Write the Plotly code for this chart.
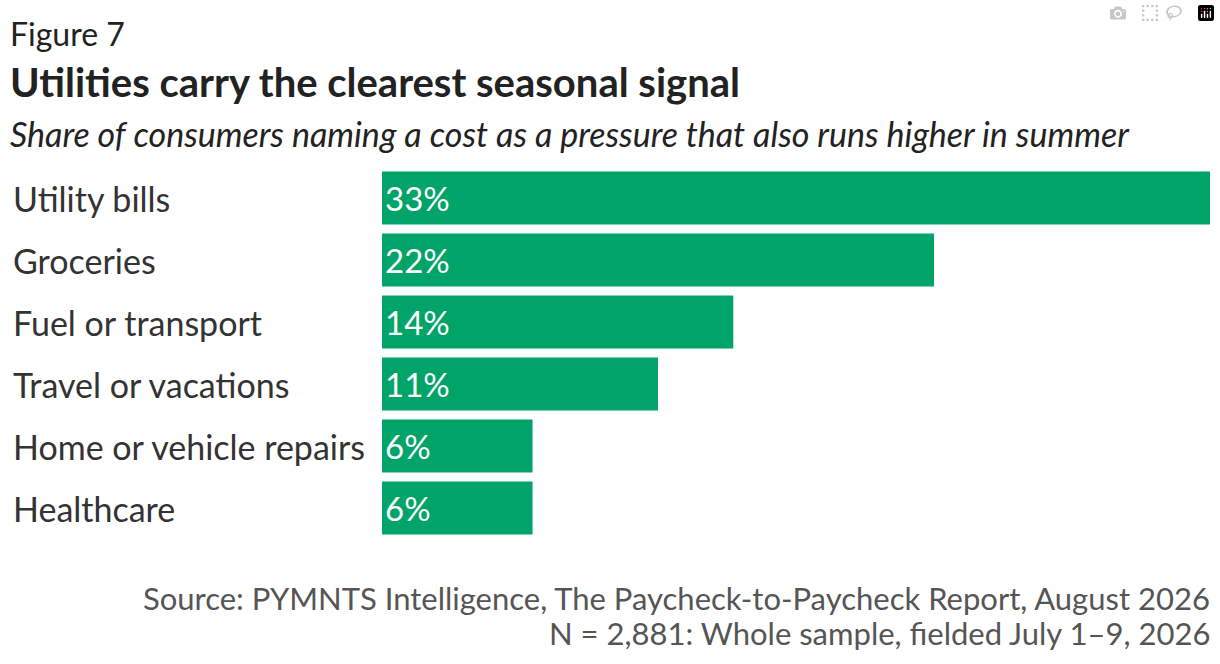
import plotly.graph_objects as go

categories = ["Utility bills", "Groceries", "Fuel or transport",
              "Travel or vacations", "Home or vehicle repairs", "Healthcare"]
values = [33, 22, 14, 11, 6, 6]
value_labels = ["33%", "22%", "14%", "11%", "6%", "6%"]

green = "#00A468"
font = "Lato, 'Open Sans', sans-serif"

W, H = 1220, 664
left, right, top, bottom = 382, 10, 167, 125
plot_w = W - left - right
plot_h = H - top - bottom

fig = go.Figure(go.Bar(
    x=values, y=categories, orientation="h",
    marker=dict(color=green, line=dict(width=0)),
    text=value_labels, textposition="inside", insidetextanchor="start",
    textfont=dict(color="white", size=33, family=font),
    hoverinfo="skip",
))

# left-aligned category labels
annotations = []
for c in categories:
    annotations.append(dict(
        x=-(left - 11) / plot_w, y=c, xref="paper", yref="y",
        text=c, showarrow=False, xanchor="left", yanchor="middle",
        font=dict(size=34, color="#333333", family=font)))

def py(px):
    # convert pixel y from top into paper coords
    return (H - bottom - px) / plot_h

def px_x(px):
    return (px - left) / plot_w

annotations += [
    dict(x=px_x(8), y=py(33), xref="paper", yref="paper", text="Figure 7",
         showarrow=False, xanchor="left", yanchor="middle",
         font=dict(size=32, color="#222222", family=font)),
    dict(x=px_x(8), y=py(82), xref="paper", yref="paper",
         text="<b>Utilities carry the clearest seasonal signal</b>",
         showarrow=False, xanchor="left", yanchor="middle",
         font=dict(size=40, color="#222222", family=font)),
    dict(x=px_x(8), y=py(133), xref="paper", yref="paper",
         text="<i>Share of consumers naming a cost as a pressure that also runs higher in summer</i>",
         showarrow=False, xanchor="left", yanchor="middle",
         font=dict(size=34, color="#222222", family=font)),
    dict(x=px_x(1212), y=py(598), xref="paper", yref="paper",
         text="Source: PYMNTS Intelligence, The Paycheck-to-Paycheck Report, August 2026",
         showarrow=False, xanchor="right", yanchor="middle",
         font=dict(size=31, color="#555555", family=font)),
    dict(x=px_x(1212), y=py(633), xref="paper", yref="paper",
         text="N = 2,881: Whole sample, fielded July 1–9, 2026",
         showarrow=False, xanchor="right", yanchor="middle",
         font=dict(size=31, color="#555555", family=font)),
]

fig.update_layout(
    width=W, height=H,
    margin=dict(l=left, r=right, t=top, b=bottom),
    paper_bgcolor="white", plot_bgcolor="white",
    bargap=0.145, showlegend=False,
    xaxis=dict(range=[0, 33], visible=False, fixedrange=True),
    yaxis=dict(categoryorder="array", categoryarray=categories[::-1],
               showticklabels=False, showgrid=False, zeroline=False,
               fixedrange=True),
    annotations=annotations,
    font=dict(family=font),
)

fig.write_html("out.html", post_script="document.body.style.margin='0';")
